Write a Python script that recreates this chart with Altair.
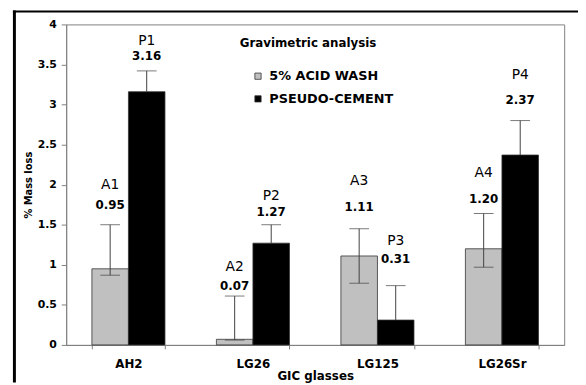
import altair as alt
import pandas as pd

categories = ["AH2", "LG26", "LG125", "LG26Sr"]
series_names = ["5% ACID WASH", "PSEUDO-CEMENT"]
acid_values = [0.95, 0.07, 1.11, 1.20]
pseudo_values = [3.16, 1.27, 0.31, 2.37]
acid_err_low = [0.87, 0.06, 0.77, 0.97]
acid_err_high = [1.50, 0.61, 1.45, 1.64]
pseudo_err_high = [3.42, 1.50, 0.74, 2.80]
acid_ids = ["A1", "A2", "A3", "A4"]
pseudo_ids = ["P1", "P2", "P3", "P4"]
acid_id_y = [1.99, 0.97, 2.05, 2.14]
acid_num_y = [1.74, 0.74, 1.72, 1.82]
pseudo_id_y = [3.79, 1.86, 1.29, 3.37]
pseudo_num_y = [3.60, 1.66, 1.07, 3.05]
y_ticks = [0, 0.5, 1, 1.5, 2, 2.5, 3, 3.5, 4]
chart_title = "Gravimetric analysis"

rows = []
caps = []
for i, c in enumerate(categories):
    rows.append(dict(cat=c, series=series_names[0], value=acid_values[i],
                     low=acid_err_low[i], high=acid_err_high[i],
                     ident=acid_ids[i], id_y=acid_id_y[i], num_y=acid_num_y[i],
                     num=f"{acid_values[i]:.2f}"))
    rows.append(dict(cat=c, series=series_names[1], value=pseudo_values[i],
                     low=pseudo_values[i], high=pseudo_err_high[i],
                     ident=pseudo_ids[i], id_y=pseudo_id_y[i], num_y=pseudo_num_y[i],
                     num=f"{pseudo_values[i]:.2f}"))
    caps.append(dict(cat=c, series=series_names[0], cap=acid_err_high[i]))
    caps.append(dict(cat=c, series=series_names[0], cap=acid_err_low[i]))
    caps.append(dict(cat=c, series=series_names[1], cap=pseudo_err_high[i]))
df = pd.DataFrame(rows)
caps_df = pd.DataFrame(caps)

FONT = "DejaVu Sans"

x_enc = alt.X("cat:N", sort=categories,
              scale=alt.Scale(paddingInner=0.413, paddingOuter=0.2065),
              axis=alt.Axis(title="GIC glasses", tickBand="extent", labelAngle=0,
                            labelFont=FONT, labelFontWeight="bold", labelFontSize=12,
                            labelColor="#000000", labelPadding=10, tickSize=4,
                            tickColor="#808080", domainColor="#808080",
                            titleFont=FONT, titleFontWeight="bold", titleFontSize=12,
                            titleColor="#000000", titlePadding=1))
xo_enc = alt.XOffset("series:N", sort=series_names,
                     scale=alt.Scale(paddingInner=0, paddingOuter=0))

y_axis = alt.Axis(title="% Mass loss", values=y_ticks, format="~g", grid=False,
                  labelFont=FONT, labelFontWeight="bold", labelFontSize=11,
                  labelColor="#000000", labelPadding=5, tickSize=5,
                  tickColor="#808080", domainColor="#808080",
                  titleFont=FONT, titleFontWeight="bold", titleFontSize=10,
                  titleColor="#000000", titlePadding=4)
y_scale = alt.Scale(domain=[0, 4], nice=False)


def y_enc(field):
    return alt.Y(f"{field}:Q", scale=y_scale, axis=y_axis)


bars = alt.Chart(df).mark_bar(stroke="#333333", strokeWidth=0.8).encode(
    x=x_enc, xOffset=xo_enc, y=y_enc("value"),
    color=alt.Color("series:N", sort=series_names,
                    scale=alt.Scale(domain=series_names, range=["#c0c0c0", "#000000"]),
                    legend=alt.Legend(title=None, orient="none", legendX=188, legendY=46,
                                      symbolType="square", symbolSize=40,
                                      symbolStrokeColor="#333333", symbolStrokeWidth=0.8,
                                      labelFont=FONT, labelFontWeight="bold",
                                      labelFontSize=13, labelColor="#000000",
                                      rowPadding=9, labelOffset=5, padding=0)),
)

err = alt.Chart(df).mark_rule(color="#404040", strokeWidth=1).encode(
    x=x_enc, xOffset=xo_enc, y=y_enc("low"), y2="high:Q")

cap_marks = alt.Chart(caps_df).mark_tick(color="#404040", thickness=1, size=20,
                                          orient="horizontal").encode(
    x=x_enc, xOffset=xo_enc, y=y_enc("cap"))

ids = alt.Chart(df).mark_text(font=FONT, fontSize=14, color="#000000",
                              baseline="middle").encode(
    x=x_enc, xOffset=xo_enc, y=y_enc("id_y"), text="ident:N")

nums = alt.Chart(df).mark_text(font=FONT, fontSize=12, fontWeight="bold",
                               color="#000000", baseline="middle").encode(
    x=x_enc, xOffset=xo_enc, y=y_enc("num_y"), text="num:N")

frame_df = pd.DataFrame({"k": [0]})
title_mark = alt.Chart(frame_df).mark_text(
    text=chart_title, font=FONT, fontSize=12, fontWeight="bold", color="#000000",
    align="left", baseline="middle").encode(x=alt.value(176), y=alt.value(19))

left_border = alt.Chart(frame_df).mark_rule(color="#000000", strokeWidth=3).encode(
    x=alt.value(-52.5), y=alt.value(-14), y2=alt.value(363))
top_border = alt.Chart(frame_df).mark_rule(color="#000000", strokeWidth=2).encode(
    x=alt.value(-54), x2=alt.value(519), y=alt.value(-13))

chart = alt.layer(bars, err, cap_marks, ids, nums, title_mark,
                  left_border, top_border).properties(
    width=505, height=325,
    autosize=alt.AutoSizeParams(type="none"),
    padding={"left": 59, "top": 14, "right": 14, "bottom": 38},
).configure_view(stroke="#808080", strokeWidth=1)

chart.save("out.html", embed_options={"renderer": "svg", "actions": False})
